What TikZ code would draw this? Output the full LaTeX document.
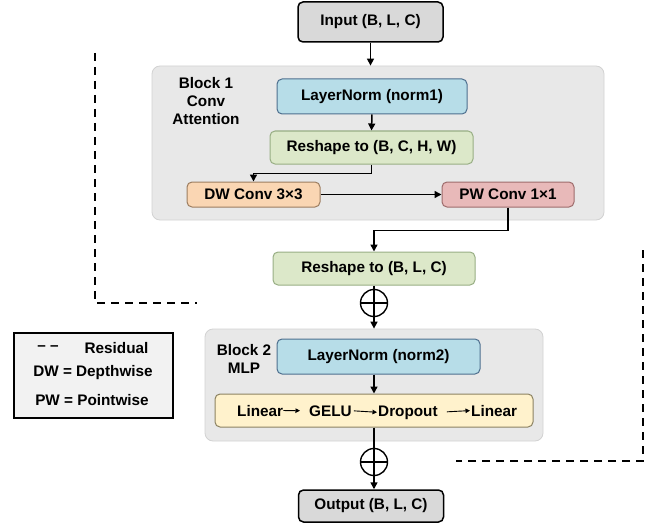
\documentclass[tikz,border=0pt]{standalone}
\usepackage{fontspec}
\setmainfont{Liberation Sans}
\usetikzlibrary{arrows.meta,calc}

\definecolor{iofill}{HTML}{D9D9D9}
\definecolor{blockfill}{HTML}{E8E8E8}
\definecolor{blockline}{HTML}{D2D2D2}
\definecolor{normfill}{HTML}{B7DDE8}
\definecolor{normline}{HTML}{4E6F8E}
\definecolor{shapefill}{HTML}{DCE8C9}
\definecolor{shapeline}{HTML}{98AE84}
\definecolor{dwfill}{HTML}{FAD6B3}
\definecolor{dwline}{HTML}{9C7D60}
\definecolor{pwfill}{HTML}{E8B9B9}
\definecolor{pwline}{HTML}{9E6C6C}
\definecolor{mlpfill}{HTML}{FFF2CC}
\definecolor{mlpline}{HTML}{8C8262}
\definecolor{legendfill}{HTML}{F2F2F2}

\newcommand{\boxfont}{\fontsize{15.3}{18}\selectfont\bfseries}

\tikzset{
  io box/.style={draw=black, fill=iofill, rounded corners=5pt, line width=1.5pt,
    font=\boxfont, minimum width=145pt, minimum height=#1},
  io box/.default=40pt,
  layer box/.style 2 args={draw=#2, fill=#1, rounded corners=5pt, line width=1pt,
    font=\boxfont},
  block bg/.style={draw=blockline, fill=blockfill, rounded corners=8pt, line width=0.8pt}
}
\tikzset{
  flow/.style={line width=1.5pt, -{Triangle[length=7pt,width=7pt]}},
  plain flow/.style={line width=1.5pt},
  small flow/.style={line width=0.9pt, -{Triangle[length=4.5pt,width=4.5pt]}},
  residual/.style={line width=2.2pt, dash pattern=on 8pt off 6pt},
  add/.style={circle, draw, line width=1.4pt, minimum size=27pt, inner sep=0pt,
    path picture={
      \draw[line width=1.4pt]
        (path picture bounding box.north) -- (path picture bounding box.south)
        (path picture bounding box.west) -- (path picture bounding box.east);
    }
  },
  word/.style={font=\boxfont, inner sep=0pt, anchor=base west}
}

\begin{document}
\begin{tikzpicture}[x=1pt,y=-1pt]
\useasboundingbox (0,0) rectangle (650,524);

% input
\node[io box] (in) at (370.5,22) {Input (B, L, C)};

% block 1
\node[block bg, minimum width=452pt, minimum height=154pt] (blk1) at (378,143) {};
\node[font=\boxfont, align=center] (blk1lab) at (206,101) {Block 1\\Conv\\Attention};
\node[layer box={normfill}{normline}, minimum width=190pt, minimum height=35pt] (ln1) at (372,96.5) {LayerNorm (norm1)};
\node[layer box={shapefill}{shapeline}, minimum width=203pt, minimum height=33pt] (rs1) at (371.5,147.5) {Reshape to (B, C, H, W)};
\node[layer box={dwfill}{dwline}, minimum width=133pt, minimum height=25pt] (dw) at (253.5,194.5) {DW Conv 3×3};
\node[layer box={pwfill}{pwline}, minimum width=132pt, minimum height=25pt] (pw) at (508,194.5) {PW Conv 1×1};

\node[layer box={shapefill}{shapeline}, minimum width=202pt, minimum height=33pt] (rs2) at (374,268.5) {Reshape to (B, L, C)};
\node[add] (add1) at (374,303) {};

% block 2
\node[block bg, minimum width=338pt, minimum height=112pt] (blk2) at (374,385) {};
\node[font=\boxfont, align=center] (blk2lab) at (244,359) {Block 2\\MLP};
\node[layer box={normfill}{normline}, minimum width=203pt, minimum height=35pt] (ln2) at (378.5,356.5) {LayerNorm (norm2)};
\node[layer box={mlpfill}{mlpline}, minimum width=318pt, minimum height=33pt] (mlp) at (374,410.5) {};
\node[word] (lin1) at (237,416) {Linear};
\node[word] (gelu) at (309,416) {GELU};
\node[word] (drop) at (378,416) {Dropout};
\node[word] (lin2) at (471,416) {Linear};

\node[add] (add2) at (374,462) {};
\node[io box=32pt] (out) at (371,506) {Output (B, L, C)};

% legend
\node[draw=black, fill=legendfill, line width=1.5pt, minimum width=159pt, minimum height=85pt] (legend) at (93.5,375.5) {};
\node[font=\boxfont] (legdash) at (48,348) {– –};
\node[font=\boxfont] (legres) at (116.5,348) {Residual};
\node[font=\boxfont] (legdw) at (93,373) {DW = Depthwise};
\node[font=\boxfont] (legpw) at (92,400) {PW = Pointwise};

% main path
\draw[flow] (in.south) -- (in.south |- blk1.north);
\draw[flow] (ln1.south) -- (rs1.north);
\draw[flow] (rs1.south) -- ++(0,9) -| (dw.north);
\draw[flow] (dw.east) -- (pw.west);
\draw[flow] (pw.south) -- ++(0,23) -| (rs2.north);
\draw[plain flow] (rs2.south) -- (add1.north);
\draw[flow] (add1.south) -- (add1.south |- blk2.north);
\draw[flow] (mlp.north |- ln2.south) -- (mlp.north);
\draw[small flow, shorten >=9pt] (lin1.east) -- (gelu.west);
\draw[small flow, shorten <=2pt, shorten >=1pt] (gelu.east) -- (drop.west);
\draw[small flow, shorten <=9pt, shorten >=1pt] (drop.east) -- (lin2.west);
\draw[plain flow] (mlp.south) -- (add2.north);
\draw[flow] (add2.south) -- (add2.south |- out.north);

% residual connections
\coordinate (r1a) at (95,53);
\coordinate (r1b) at (95,303);
\coordinate (r1c) at (197,303);
\coordinate (r2a) at (643,250);
\coordinate (r2b) at (643,461);
\coordinate (r2c) at (456,461);
\draw[residual] (r1a) -- (r1b) -- (r1c);
\draw[residual] (r2a) -- (r2b) -- (r2c);

\end{tikzpicture}
\end{document}
